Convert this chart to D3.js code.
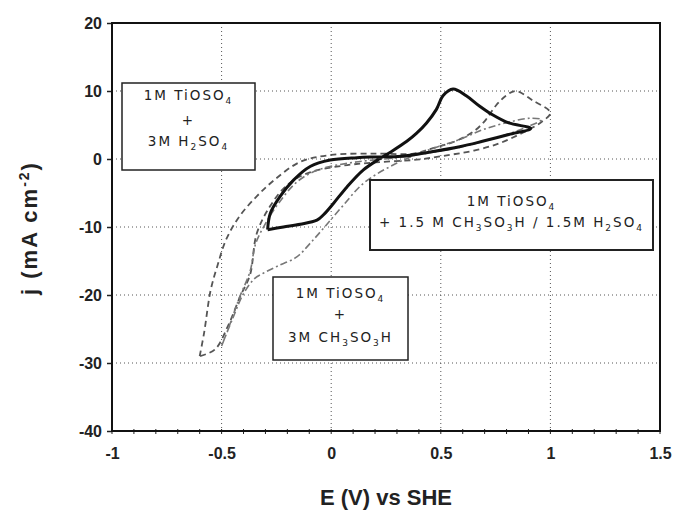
<!DOCTYPE html>
<html><head><meta charset="utf-8">
<script src="https://cdn.jsdelivr.net/npm/d3@7"></script>
<style>
html,body{margin:0;padding:0;background:#fff;}
text{font-family:"Liberation Sans",Arial,sans-serif;fill:#222;}
</style></head>
<body><svg id="c" width="678" height="517"></svg>
<script>
// ---- data ----
const xTicks = [-1, -0.5, 0, 0.5, 1, 1.5];
const xTickLabels = ["-1", "-0.5", "0", "0.5", "1", "1.5"];
const yTicks = [20, 10, 0, -10, -20, -30, -40];
const yTickLabels = ["20", "10", "0", "-10", "-20", "-30", "-40"];

// 1M TiOSO4 + 1.5M CH3SO3H / 1.5M H2SO4 (solid)
const mixedE = [-0.29,-0.218,-0.141,-0.065,-0.035,0.011,0.072,0.147,0.224,0.27,0.345,0.39,0.435,0.48,0.51,0.556,0.616,0.676,0.736,0.81,0.91,
                0.81,0.69,0.586,0.465,0.32,0.2,0.117,-0.005,-0.096,-0.172,-0.233,-0.278,-0.29];
const mixedJ = [-10.4,-10.0,-9.6,-9.0,-8.2,-6.5,-4.1,-1.6,0.1,1.0,2.6,3.8,5.3,7.3,9.3,10.3,9.3,7.8,6.5,5.3,4.5,
                3.6,2.6,1.8,1.1,0.4,0.3,0.2,-0.15,-1.1,-3.1,-5.5,-8.0,-10.4];

// 1M TiOSO4 + 3M H2SO4 (dashed)
const sulfE = [-0.6,-0.58,-0.55,-0.52,-0.48,-0.42,-0.34,-0.26,-0.14,0.0,0.2,0.375,0.465,0.54,0.6,0.66,0.706,0.75,0.797,0.842,0.92,1.0,
               0.962,0.917,0.857,0.767,0.66,0.54,0.39,0.2,0.05,-0.1,-0.2,-0.28,-0.34,-0.37,-0.415,-0.47,-0.53,-0.6];
const sulfJ = [-29,-25.6,-19.3,-15.8,-11.9,-8.5,-5.5,-3.1,-0.4,0.6,0.8,0.8,1.6,2.3,3.1,4.3,5.8,7.8,9.3,10,8.6,6.8,
               5.5,4.6,3.6,2.3,1.3,0.6,-0.1,-0.5,-1.0,-2.0,-3.8,-7.0,-11.0,-17.0,-20.2,-24.5,-28,-29];

// 1M TiOSO4 + 3M CH3SO3H (dash-dot)
const methE = [-0.5,-0.45,-0.4,-0.35,-0.31,-0.248,-0.157,-0.096,-0.03,0.05,0.15,0.3,0.45,0.58,0.7,0.82,0.91,0.96,
               0.9,0.8,0.65,0.5,0.3,0.1,-0.05,-0.15,-0.24,-0.3,-0.345,-0.37,-0.42,-0.47,-0.5];
const methJ = [-27.5,-23.5,-19.8,-17.6,-16.8,-15.8,-14.4,-12.4,-10,-7,-3.5,-0.6,1.4,2.8,4.4,5.5,6.0,5.8,
               4.8,3.6,2.2,1.2,0.2,-0.5,-1.5,-3.2,-6.5,-9.5,-12.5,-16.5,-20.5,-25,-27.5];

// ---- chart ----
const svg = d3.select("#c");
const x = d3.scaleLinear().domain([-1, 1.5]).range([112, 660]);
const y = d3.scaleLinear().domain([-40, 20]).range([431, 23]);

// gridlines
const grid = svg.append("g");
grid.selectAll("line.v").data(xTicks.slice(1, -1)).join("line")
  .attr("x1", d => x(d)).attr("x2", d => x(d)).attr("y1", y(20)).attr("y2", y(-40))
  .attr("stroke", "#555").attr("stroke-width", 1).attr("stroke-dasharray", "1,3");
grid.selectAll("line.h").data(yTicks.slice(1, -1)).join("line")
  .attr("x1", x(-1)).attr("x2", x(1.5)).attr("y1", d => y(d)).attr("y2", d => y(d))
  .attr("stroke", "#555").attr("stroke-width", 1).attr("stroke-dasharray", "1,3");

// curves
const line = d3.line().x(d => x(d[0])).y(d => y(d[1])).curve(d3.curveCatmullRom.alpha(0.5));
const zip = (a, b) => a.map((v, i) => [v, b[i]]);
svg.append("path").datum(zip(sulfE, sulfJ)).attr("d", line)
  .attr("fill", "none").attr("stroke", "#555").attr("stroke-width", 1.8).attr("stroke-dasharray", "6,4");
svg.append("path").datum(zip(methE, methJ)).attr("d", line)
  .attr("fill", "none").attr("stroke", "#777").attr("stroke-width", 1.6).attr("stroke-dasharray", "7,3,2,3");
svg.append("path").datum(zip(mixedE, mixedJ)).attr("d", line)
  .attr("fill", "none").attr("stroke", "#111").attr("stroke-width", 3);

// axes
const xAxis = d3.axisBottom(x).tickValues(xTicks).tickFormat((d, i) => xTickLabels[i]).tickSize(0).tickPadding(17);
const yAxis = d3.axisLeft(y).tickValues(yTicks).tickFormat((d, i) => yTickLabels[i]).tickSize(5).tickPadding(5);
const gx = svg.append("g").attr("transform", `translate(0,${y(-40)})`).call(xAxis);
const gy = svg.append("g").attr("transform", `translate(${x(-1)},0)`).call(yAxis);
[gx, gy].forEach(g => {
  g.select(".domain").remove();
  g.selectAll("text").style("font-size", "16px").style("font-weight", "bold").attr("fill", "#333");
  g.selectAll("line").attr("stroke", "#222").attr("stroke-width", 1.5);
});
// minor ticks on x
svg.append("g").selectAll("line").data(d3.range(-1, 1.5001, 0.1)).join("line")
  .attr("x1", d => x(d)).attr("x2", d => x(d)).attr("y1", y(-40) - 2).attr("y2", y(-40) + 3)
  .attr("stroke", "#222").attr("stroke-width", 1);

// frame
svg.append("rect").attr("x", x(-1)).attr("y", y(20)).attr("width", x(1.5) - x(-1)).attr("height", y(-40) - y(20))
  .attr("fill", "none").attr("stroke", "#111").attr("stroke-width", 2);

// axis titles
svg.append("text").attr("x", 386).attr("y", 505).attr("text-anchor", "middle")
  .style("font-size", "22px").style("font-weight", "bold").attr("fill", "#333").text("E (V) vs SHE");
const yl = svg.append("text").attr("transform", "translate(37,228) rotate(-90)").attr("text-anchor", "middle")
  .style("font-size", "22px").style("font-weight", "bold").style("letter-spacing", "2px").attr("fill", "#333");
yl.append("tspan").text("j (mA cm");
yl.append("tspan").attr("dy", -8).style("font-size", "14px").text("-2");
yl.append("tspan").attr("dy", 8).text(")");

// legend boxes
function box(x0, y0, w, h, sw, lines) {
  const g = svg.append("g");
  g.append("rect").attr("x", x0).attr("y", y0).attr("width", w).attr("height", h)
    .attr("fill", "#fff").attr("stroke", "#222").attr("stroke-width", sw);
  lines.forEach(l => {
    const t = g.append("text").attr("x", x0 + w / 2).attr("y", l.y).attr("text-anchor", "middle")
      .style("font-family", "'DejaVu Sans',sans-serif").style("font-size", "13.5px")
      .style("letter-spacing", "2px").attr("fill", "#222");
    l.parts.forEach(p => {
      if (p.sub) t.append("tspan").attr("dy", 4).style("font-size", "9px").text(p.sub);
      else t.append("tspan").attr("dy", p.after ? -4 : 0).text(p.t);
    });
  });
}
box(122, 83, 133, 87, 1.5, [
  {y: 100, parts: [{t: "1M TiOSO"}, {sub: "4"}]},
  {y: 125, parts: [{t: "+"}]},
  {y: 146, parts: [{t: "3M H"}, {sub: "2"}, {t: "SO", after: true}, {sub: "4"}]}
]);
box(370, 180, 283, 70, 2, [
  {y: 206, parts: [{t: "1M TiOSO"}, {sub: "4"}]},
  {y: 227, parts: [{t: "+ 1.5 M CH"}, {sub: "3"}, {t: "SO", after: true}, {sub: "3"}, {t: "H / 1.5M H", after: true}, {sub: "2"}, {t: "SO", after: true}, {sub: "4"}]}
]);
box(273, 277, 135, 83, 1.5, [
  {y: 298, parts: [{t: "1M TiOSO"}, {sub: "4"}]},
  {y: 319, parts: [{t: "+"}]},
  {y: 342, parts: [{t: "3M CH"}, {sub: "3"}, {t: "SO", after: true}, {sub: "3"}, {t: "H", after: true}]}
]);
</script></body></html>
